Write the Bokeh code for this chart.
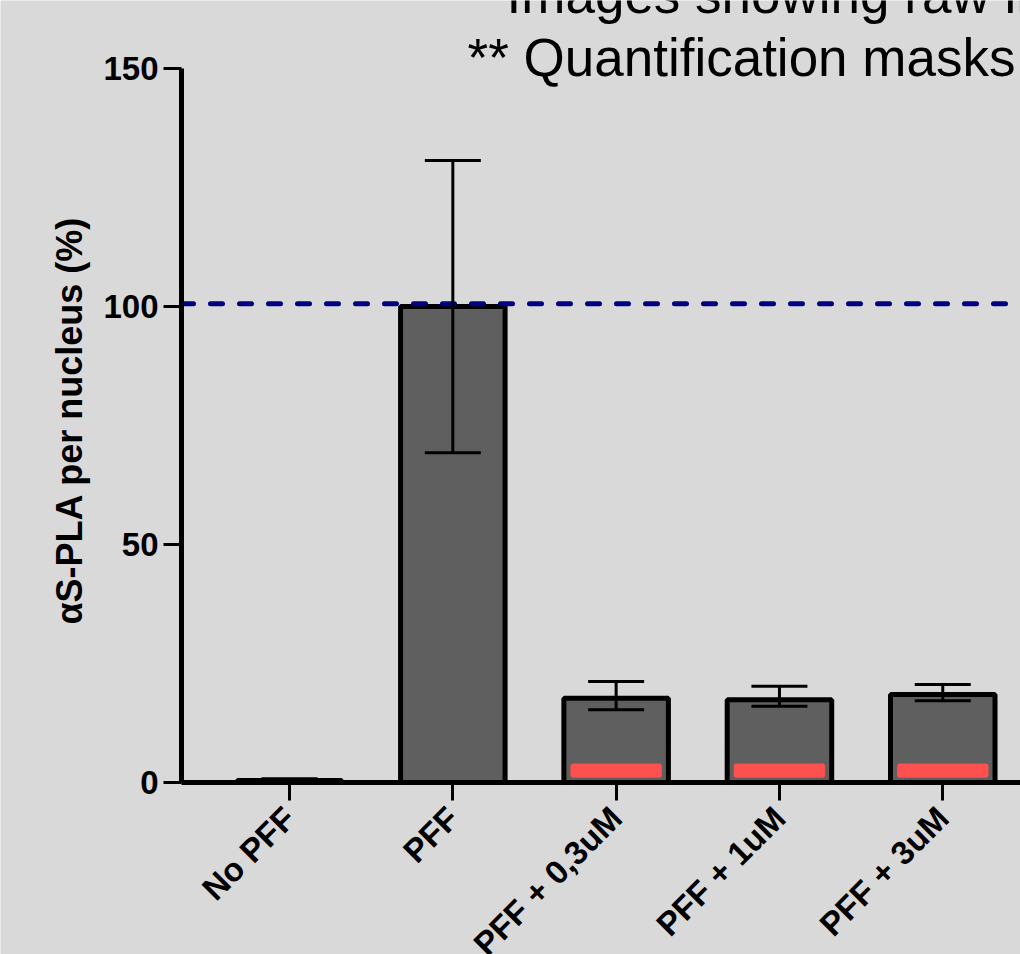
from bokeh.plotting import figure
from bokeh.models import Range1d, FixedTicker, Whisker, Label, ColumnDataSource, TeeHead
from bokeh.embed import file_html
from bokeh.resources import INLINE

# ---- data ----
categories = ["No PFF", "PFF", "PFF + 0,3uM", "PFF + 1uM", "PFF + 3uM"]
means = [0.4, 100.0, 17.7, 17.4, 18.5]
err_upper = [0.8, 130.7, 21.2, 20.2, 20.6]
err_lower = [0.0, 69.3, 15.3, 16.0, 17.2]
mask_categories = ["PFF + 0,3uM", "PFF + 1uM", "PFF + 3uM"]
mask_bottom = [1.0, 1.0, 1.0]
mask_top = [4.0, 4.0, 4.0]
reference_level = 100.6
y_ticks = [0, 50, 100, 150]
y_label = "αS-PLA per nucleus (%)"
title_lines = ["Images showing raw images", "** Quantification masks"]

positions = list(range(len(categories)))
mask_positions = [categories.index(c) for c in mask_categories]

FONT = "Liberation Sans"
BG = "#d9d9d9"
X_START = -0.6614   # where the y axis sits (data units)
X_END = 4.476

p = figure(width=1020, height=954, output_backend="svg", toolbar_location=None,
           x_range=Range1d(-1.7697, X_END), y_range=Range1d(-36.13, 164.29),
           min_border_left=0, min_border_right=0, min_border_top=0, min_border_bottom=0)
p.background_fill_color = BG
p.border_fill_color = BG
p.outline_line_color = None
p.grid.visible = False

src = ColumnDataSource(dict(x=positions, top=means, upper=err_upper, lower=err_lower))
p.vbar(x="x", top="top", bottom=0, width=0.64, source=src,
       fill_color="#5f5f5f", line_color="black", line_width=5)

msrc = ColumnDataSource(dict(x=mask_positions, bottom=mask_bottom, top=mask_top))
p.vbar(x="x", top="top", bottom="bottom", width=0.56, source=msrc,
       fill_color="#ff5050", line_color=None, border_radius=3)

w = Whisker(base="x", upper="upper", lower="lower", source=src, level="overlay",
            line_color="black", line_width=3,
            upper_head=TeeHead(size=56, line_width=3, line_color="black"),
            lower_head=TeeHead(size=56, line_width=3, line_color="black"))
p.add_layout(w)

# dashed reference line from the y axis to the right edge
p.segment(x0=[X_START], x1=[X_END], y0=[reference_level], y1=[reference_level],
          line_color="#000080", line_width=5, line_dash="12 17", line_cap="round")

# axes
p.xaxis.ticker = FixedTicker(ticks=positions)
p.xaxis.major_label_overrides = {i: c for i, c in zip(positions, categories)}
p.xaxis.major_label_orientation = 0.785398
p.xaxis.fixed_location = 0
p.xaxis.bounds = (X_START, X_END)
p.yaxis.ticker = FixedTicker(ticks=y_ticks)
p.yaxis.bounds = (0, 150)
p.yaxis.fixed_location = X_START
for ax in (p.xaxis[0], p.yaxis[0]):
    ax.axis_line_width = 5
    ax.axis_line_color = "black"
    ax.major_tick_line_width = 3
    ax.major_tick_out = 18
    ax.major_tick_in = 0
    ax.minor_tick_line_color = None
    ax.major_label_text_font = FONT
    ax.major_label_text_font_style = "bold"
    ax.major_label_text_color = "black"
p.xaxis.major_label_text_font_size = "33px"
p.xaxis.major_label_standoff = 12
p.yaxis.major_label_text_font_size = "33px"
p.yaxis.major_label_standoff = 5
p.yaxis.axis_label = "\u00a0" + y_label
p.yaxis.axis_label_text_font = FONT
p.yaxis.axis_label_text_font_style = "bold"
p.yaxis.axis_label_text_font_size = "36px"
p.yaxis.axis_label_text_color = "black"
p.yaxis.axis_label_standoff = 10

# title texts (cropped at the edges like the reference)
p.add_layout(Label(x=1.329, y=159.45, text=title_lines[0], text_font=FONT,
                   text_font_size="53px", text_color="black", text_baseline="bottom"))
p.add_layout(Label(x=1.090, y=146.2, text=title_lines[1], text_font=FONT,
                   text_font_size="53px", text_color="black", text_baseline="bottom"))

open("out.html", "w").write(file_html(p, INLINE))
